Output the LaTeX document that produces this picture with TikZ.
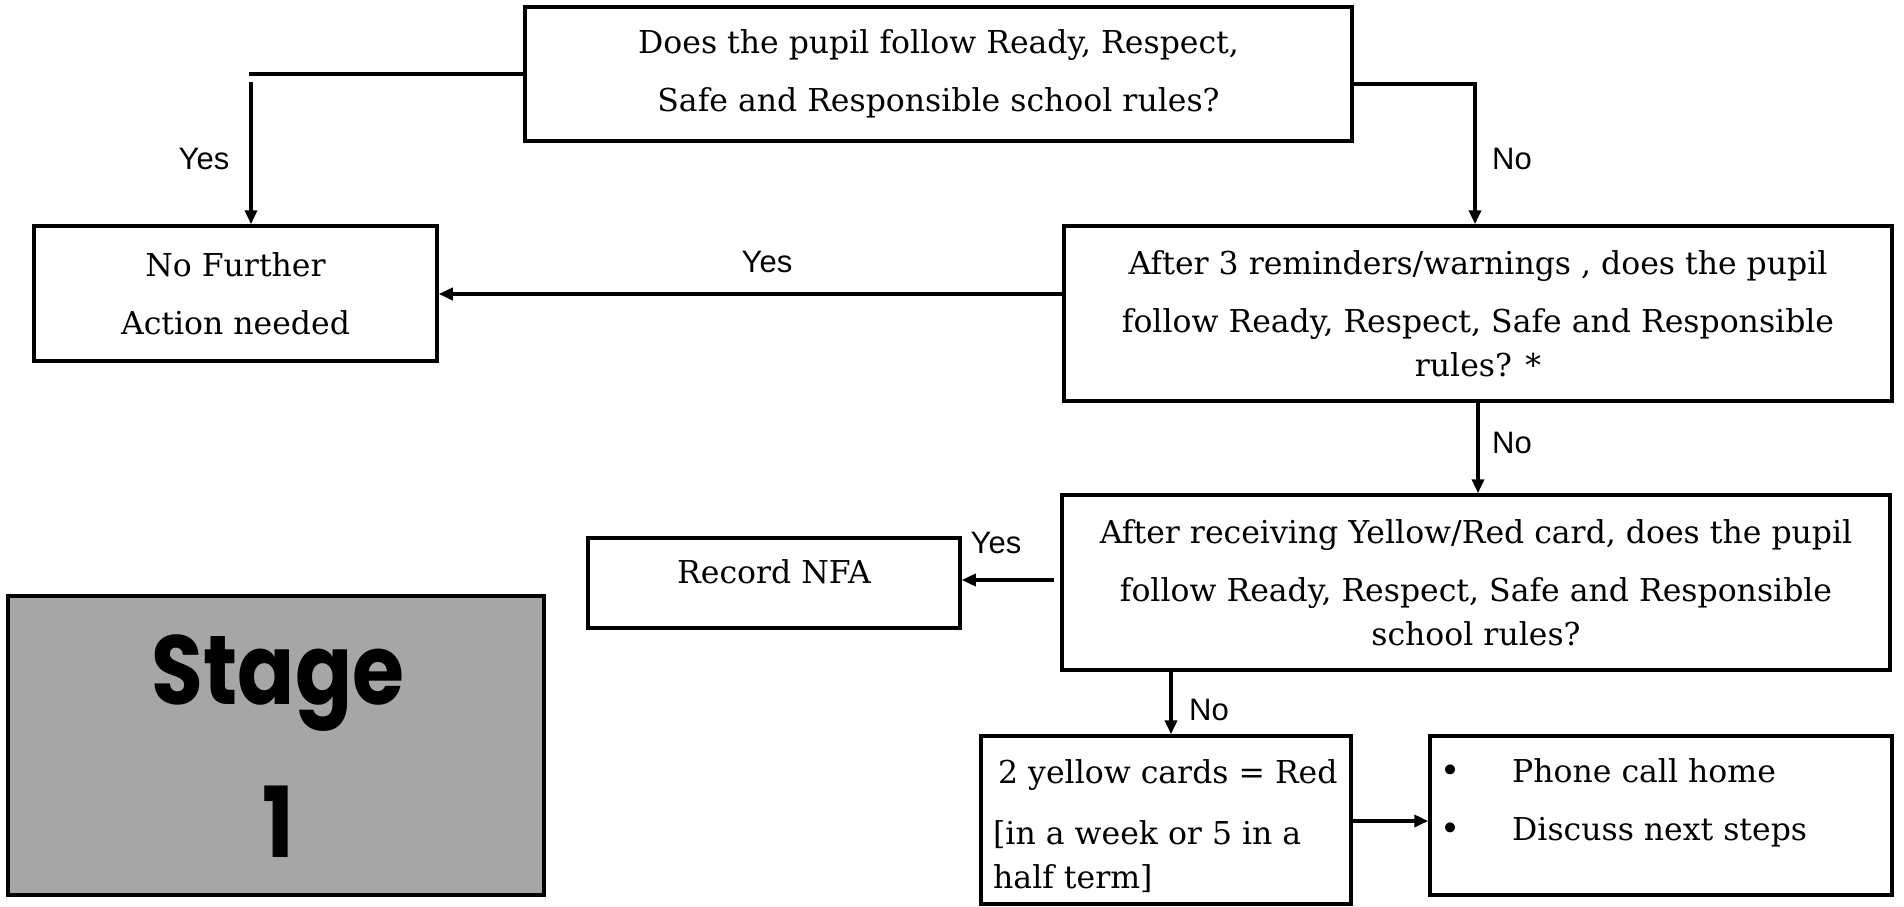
\documentclass[tikz,border=0pt]{standalone}
\usepackage{fontspec}
\usepackage{graphicx}
\setmainfont{DejaVu Serif}
\newfontfamily\lblfont{Liberation Sans}
\newfontfamily\stagefont{Poppins}
\usetikzlibrary{arrows.meta}
\definecolor{stagegray}{HTML}{A6A6A6}
\newcommand{\mybul}{\makebox[72pt][l]{\fontsize{34}{34}\selectfont•}}
\begin{document}
\begin{tikzpicture}[x=1pt,y=-1pt,
  box/.style={draw, line width=3.5pt, inner sep=0pt},
  txt/.style={font=\fontsize{31.5}{58}\selectfont, align=center, inner sep=0pt},
  lbl/.style={font=\lblfont\fontsize{31}{36}\selectfont, inner sep=0pt},
  ln/.style={line width=3.5pt},
  arr/.style={line width=3.5pt, -{Triangle[length=14pt,width=12pt]}},
  stg/.style={font=\stagefont\bfseries\fontsize{98}{100}\selectfont, inner sep=0pt, anchor=base}]
\useasboundingbox (0,0) rectangle (1904,906);

% boxes
\node[box, txt, minimum width=827, minimum height=134] (q1) at (938.5,74)
  {Does the pupil follow Ready, Respect,\\Safe and Responsible school rules?};
\node[box, txt, minimum width=403, minimum height=135] (nfa) at (235.5,293.5)
  {No Further\\Action needed};
\node[box, txt, minimum width=828, minimum height=175] (q2) at (1478,313.5)
  {After 3 reminders/warnings , does the pupil\\follow Ready, Respect, Safe and Responsible\\[-14pt]rules? *};
\node[box, txt, minimum width=828, minimum height=175] (q3) at (1476,582.5)
  {After receiving Yellow/Red card, does the pupil\\follow Ready, Respect, Safe and Responsible\\[-14pt]school rules?};
\node[box, minimum width=372, minimum height=90] (rec) at (774,583) {};
\node[txt] (rect) at (774,572) {Record NFA};
\node[box, minimum width=370, minimum height=168] (yc) at (1166,820) {};
\node[txt, align=left, anchor=west] (yct) at (993,826)
  {\hspace*{5pt}2 yellow cards = Red\\[3pt]{[}in a week or 5 in a\\[-14pt]half term]};
\node[box, minimum width=462, minimum height=159] (act) at (1661,815.5) {};
\node[txt, align=left, anchor=west] (actt) at (1440,803)
  {\mybul Phone call home\\\mybul Discuss next steps};
\node[box, fill=stagegray, minimum width=536, minimum height=299] (stage) at (276,745.5) {};
\node[stg] (stg1) at (278,704) {\scalebox{0.86}[1]{Stage}};
\node[stg] (stg2) at (278,857) {\scalebox{0.86}[1]{1}};

% connectors
\coordinate (c1) at (249,74);
\coordinate (c2) at (251,82);
\draw[ln] (q1.west |- 0,74) -- (c1);
\draw[arr] (c2) -- (c2 |- nfa.north);
\node[lbl] (yes1) at (204,159) {Yes};

\coordinate (c3) at (1475,84);
\draw[arr] (q1.east |- c3) -- (c3) -- (c3 |- q2.north);
\node[lbl] (no1) at (1512,159) {No};

\draw[arr] (q2.west |- 0,294) -- (nfa.east |- 0,294);
\node[lbl] (yes2) at (767,262) {Yes};

\draw[arr] (1478,0 |- q2.south) -- (1478,0 |- q3.north);
\node[lbl] (no2) at (1512,443) {No};

\coordinate (c4) at (1054,580);
\draw[arr] (c4) -- (rec.east |- c4);
\node[lbl] (yes3) at (996,543) {Yes};

\draw[arr] (1171,0 |- q3.south) -- (1171,0 |- yc.north);
\node[lbl] (no3) at (1209,710) {No};

\draw[arr] (yc.east |- 0,821) -- (act.west |- 0,821);
\end{tikzpicture}
\end{document}
